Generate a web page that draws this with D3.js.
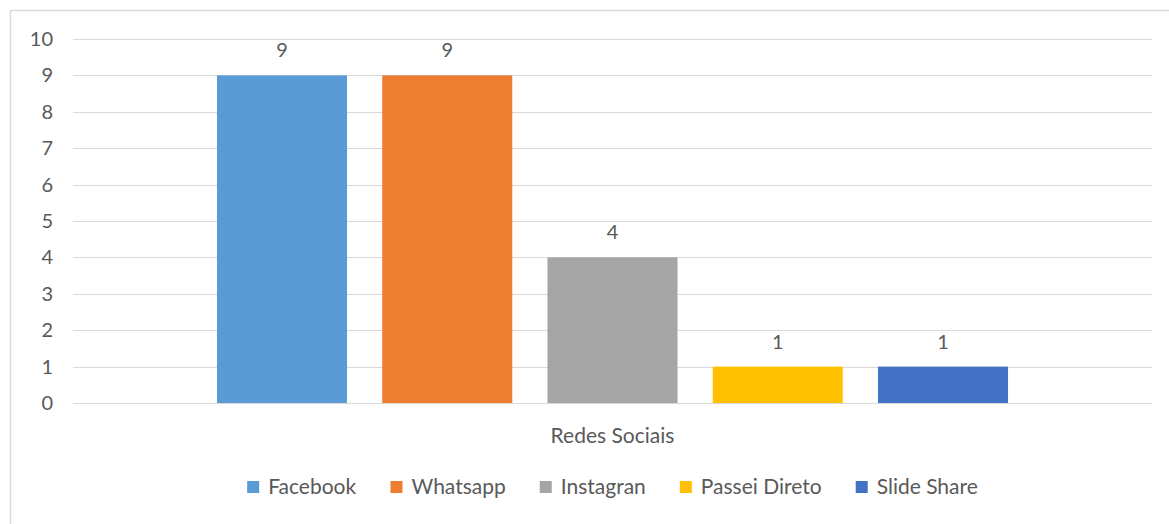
<!DOCTYPE html>
<html>
<head>
<meta charset="utf-8">
<script src="https://cdn.jsdelivr.net/npm/d3@7"></script>
<style>
  body { margin: 0; background: #fff; }
  text { font-family: Lato, "Open Sans", sans-serif; fill: #595959; }
</style>
</head>
<body>
<div id="chart"></div>
<script>
var categories = ["Redes Sociais"];
var series = ["Facebook", "Whatsapp", "Instagran", "Passei Direto", "Slide Share"];
var values = [9, 9, 4, 1, 1];
var colors = ["#5B9BD5", "#ED7D31", "#A5A5A5", "#FFC000", "#4472C4"];
var yTicks = [0, 1, 2, 3, 4, 5, 6, 7, 8, 9, 10];

var W = 1169, H = 524;
var margin = {top: 39, right: 17, bottom: 121, left: 73};
var width = W - margin.left - margin.right,
    height = H - margin.top - margin.bottom;

var svg = d3.select("#chart").append("svg")
    .attr("width", W)
    .attr("height", H);

// chart border
svg.append("rect")
    .attr("x", 10.5).attr("y", 10.5)
    .attr("width", W + 20).attr("height", H + 20)
    .attr("fill", "none")
    .attr("stroke", "#d9d9d9")
    .attr("stroke-width", 1.5);

var g = svg.append("g")
    .attr("transform", "translate(" + margin.left + "," + margin.top + ")");

var x0 = d3.scaleBand()
    .domain(categories)
    .range([0, width])
    .paddingOuter(0.182);

var x1 = d3.scaleBand()
    .domain(series)
    .range([0, x0.bandwidth()])
    .paddingInner(0.213)
    .paddingOuter(0);

var y = d3.scaleLinear()
    .domain([0, 10])
    .range([height, 0]);

// gridlines
g.append("g")
    .selectAll("line")
    .data(yTicks)
  .enter().append("line")
    .attr("x1", 0).attr("x2", width)
    .attr("y1", function(d) { return Math.round(y(d)) + 0.5; })
    .attr("y2", function(d) { return Math.round(y(d)) + 0.5; })
    .attr("stroke", "#d9d9d9")
    .attr("stroke-width", 1);

// y axis labels
var yAxis = g.append("g")
    .call(d3.axisLeft(y).tickValues(yTicks).tickSize(0).tickPadding(20));
yAxis.select(".domain").remove();
yAxis.selectAll("text")
    .style("font-size", "20px")
    .attr("fill", "#595959");

// bars
var grp = g.selectAll(".grp")
    .data(categories)
  .enter().append("g")
    .attr("class", "grp")
    .attr("transform", function(d) { return "translate(" + x0(d) + ",0)"; });

grp.selectAll("rect")
    .data(series)
  .enter().append("rect")
    .attr("x", function(d) { return x1(d); })
    .attr("y", function(d, i) { return y(values[i]); })
    .attr("width", x1.bandwidth())
    .attr("height", function(d, i) { return height - y(values[i]); })
    .attr("fill", function(d, i) { return colors[i]; });

grp.selectAll(".lbl")
    .data(series)
  .enter().append("text")
    .attr("class", "lbl")
    .attr("x", function(d) { return x1(d) + x1.bandwidth() / 2; })
    .attr("y", function(d, i) { return y(values[i]) - 18; })
    .attr("text-anchor", "middle")
    .style("font-size", "20px")
    .text(function(d, i) { return values[i]; });

// category label
g.selectAll(".cat")
    .data(categories)
  .enter().append("text")
    .attr("class", "cat")
    .attr("x", function(d) { return x0(d) + x0.bandwidth() / 2; })
    .attr("y", height + 40)
    .attr("text-anchor", "middle")
    .style("font-size", "21px")
    .text(function(d) { return d; });

// legend
var legend = svg.append("g");
var item = legend.selectAll(".item")
    .data(series)
  .enter().append("g")
    .attr("class", "item");

item.append("rect")
    .attr("width", 12).attr("height", 12)
    .attr("y", -6)
    .attr("fill", function(d, i) { return colors[i]; });

item.append("text")
    .attr("x", 21)
    .attr("dy", "0.35em")
    .style("font-size", "21px")
    .text(function(d) { return d; });

var xpos = 0, gap = 34;
item.each(function() {
  var w = this.getBBox().width;
  d3.select(this).attr("transform", "translate(" + xpos + ",0)");
  xpos += w + gap;
});
var total = xpos - gap;
legend.attr("transform", "translate(" + (margin.left + width / 2 - total / 2) + ",487)");
</script>
</body>
</html>
